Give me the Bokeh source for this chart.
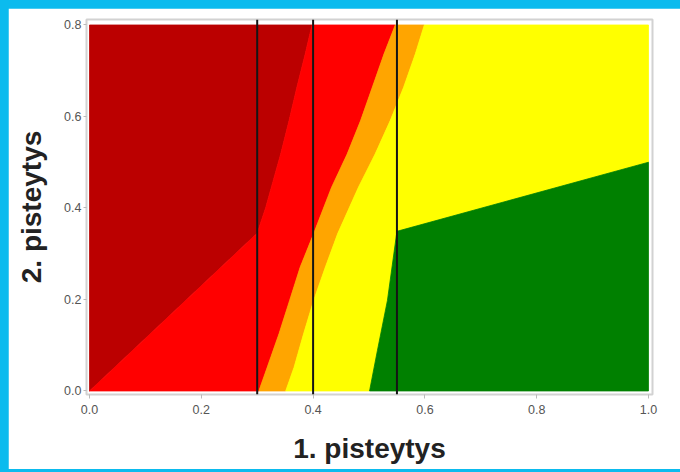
from bokeh.plotting import figure
from bokeh.models import Range1d, Span, PrintfTickFormatter, GlobalInlineStyleSheet
from bokeh.embed import file_html
from bokeh.resources import INLINE

# ---- data ----
x_ticks = [0.0, 0.2, 0.4, 0.6, 0.8, 1.0]
y_ticks = [0.0, 0.2, 0.4, 0.6, 0.8]
x_min, x_max = 0.0, 1.0
y_min, y_max = 0.0, 0.8

# vertical reference lines
vlines = [0.3, 0.4, 0.55]

# boundary between dark red and red
darkred_x = [0.0, 0.30, 0.315, 0.342, 0.357, 0.371, 0.386, 0.398]
darkred_y = [0.0, 0.345, 0.40, 0.518, 0.591, 0.664, 0.737, 0.8]

# boundary between red and orange
redorange_x = [0.303, 0.318, 0.339, 0.358, 0.377, 0.401, 0.433,
               0.461, 0.485, 0.506, 0.527, 0.547]
redorange_y = [0.0, 0.052, 0.125, 0.198, 0.271, 0.344, 0.445,
               0.518, 0.591, 0.664, 0.737, 0.8]

# boundary between orange and yellow
orangeyellow_x = [0.351, 0.366, 0.383, 0.401, 0.422, 0.444, 0.481,
                  0.511, 0.538, 0.562, 0.583, 0.599]
orangeyellow_y = [0.0, 0.052, 0.125, 0.198, 0.271, 0.344, 0.445,
                  0.518, 0.591, 0.664, 0.737, 0.8]

# boundary between yellow and green
yellowgreen_x = [0.501, 0.515, 0.533, 0.55, 1.0]
yellowgreen_y = [0.0, 0.088, 0.198, 0.349, 0.5]

colors = {"darkred": "#BB0000", "red": "#FF0000", "orange": "#FFA500",
          "yellow": "#FFFF00", "green": "#008000"}

# ---- polygons built from boundaries ----
def rev(a):
    return list(reversed(a))

dr_px = darkred_x + [x_min]
dr_py = darkred_y + [y_max]

red_px = [x_min] + redorange_x + rev(darkred_x)
red_py = [y_min] + redorange_y + rev(darkred_y)

or_px = redorange_x + rev(orangeyellow_x)
or_py = redorange_y + rev(orangeyellow_y)

ye_px = orangeyellow_x + [x_max] + rev(yellowgreen_x)
ye_py = orangeyellow_y + [y_max] + rev(yellowgreen_y)

gr_px = yellowgreen_x + [x_max]
gr_py = yellowgreen_y + [y_min]

p = figure(width=672, height=461, output_backend="svg", toolbar_location=None,
           x_range=Range1d(-0.0054, 1.0072), y_range=Range1d(-0.0077, 0.812),
           min_border_left=78, min_border_right=28, min_border_top=11,
           min_border_bottom=75)

p.stylesheets = [GlobalInlineStyleSheet(
    css="html{background:#0bbbee !important;} body{margin:8px 0 0 8px !important;"
        "padding:0 !important;background:#0bbbee !important;overflow:hidden;}")]

for px, py, c in [(dr_px, dr_py, "darkred"), (red_px, red_py, "red"),
                  (or_px, or_py, "orange"), (ye_px, ye_py, "yellow"),
                  (gr_px, gr_py, "green")]:
    p.patch(px, py, fill_color=colors[c], line_color=colors[c], line_width=0.8)

for v in vlines:
    p.add_layout(Span(location=v, dimension="height", line_color="#151515",
                      line_width=2))

p.xgrid.visible = False
p.ygrid.visible = False
p.background_fill_color = "white"
p.border_fill_color = "white"
p.outline_line_color = "#d2d2d2"
p.outline_line_width = 2

for ax, ticks in [(p.xaxis, x_ticks), (p.yaxis, y_ticks)]:
    ax.ticker = ticks
    ax.formatter = PrintfTickFormatter(format="%.1f")
    ax.axis_line_color = None
    ax.major_tick_line_color = "#bbbbbb"
    ax.major_tick_in = 0
    ax.minor_tick_line_color = None
    ax.major_label_text_font = "Liberation Sans"
    ax.major_label_text_font_size = "12.5px"
    ax.major_label_text_color = "#555555"
    ax.axis_label_text_font = "Liberation Sans"
    ax.axis_label_text_font_style = "bold"
    ax.axis_label_text_font_size = "28px"
    ax.axis_label_text_color = "#222222"

p.xaxis.major_tick_out = 4
p.xaxis.major_label_standoff = 6
p.xaxis.axis_label = "1. pisteytys"
p.xaxis.axis_label_standoff = 16

p.yaxis.major_tick_out = 3
p.yaxis.major_label_standoff = 2
p.yaxis.axis_label = "2. pisteytys"
p.yaxis.axis_label_standoff = 14

open("out.html", "w").write(file_html(p, INLINE))
